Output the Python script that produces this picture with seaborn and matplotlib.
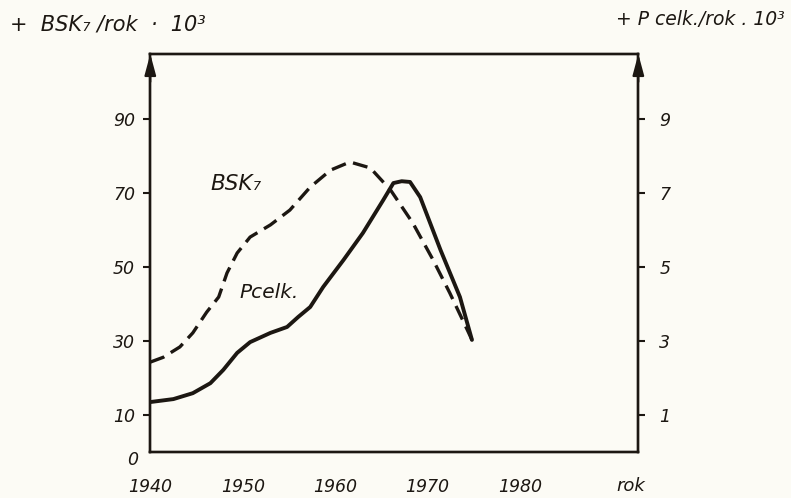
import numpy as np
import matplotlib.pyplot as plt
import seaborn as sns

# hodnoty
bsk_roky = [1940, 1941.4, 1943.2, 1944.6, 1946.1, 1947.4, 1948.3, 1949.4, 1950.8, 1953,
            1955.1, 1957.3, 1959.5, 1961.6, 1963.8, 1966, 1968.4, 1970.6, 1972.4, 1974.3, 1974.8]
bsk_hodnoty = [24.3, 25.6, 28.4, 32.2, 37.8, 41.9, 48.4, 53.8, 58.1, 61.4,
               65.4, 71.6, 76.2, 78.4, 76.8, 70.8, 61.9, 51.9, 43.0, 33.0, 30.3]

p_roky = [1940, 1942.5, 1944.6, 1946.5, 1947.9, 1949.4, 1950.8, 1953, 1954.8, 1956,
          1957.3, 1958.7, 1960.9, 1963, 1965.2, 1966.3, 1967.2, 1968.1, 1969.2, 1971.4, 1973.5, 1974.8]
p_hodnoty = [1.35, 1.43, 1.59, 1.86, 2.22, 2.68, 2.97, 3.22, 3.38, 3.65,
             3.92, 4.46, 5.19, 5.92, 6.81, 7.27, 7.32, 7.30, 6.89, 5.46, 4.19, 3.03]

roky_ticks = [1940, 1950, 1960, 1970, 1980]
levo_ticks = [10, 30, 50, 70, 90]
pravo_ticks = [1, 3, 5, 7, 9]

ink = '#1c1712'
papir = '#fcfbf5'

sns.set_style('white')
plt.rcParams['font.family'] = ['DejaVu Sans']
plt.rcParams['lines.solid_joinstyle'] = 'round'
plt.rcParams['lines.solid_capstyle'] = 'round'

fig = plt.figure(figsize=(7.91, 4.98), dpi=100, facecolor=papir)
ax = fig.add_axes([0.19, 0.0924, 0.617, 0.7992])
ax.set_facecolor(papir)
ax2 = ax.twinx()

sns.lineplot(x=bsk_roky, y=bsk_hodnoty, ax=ax, color=ink, linewidth=2.4,
             linestyle=(0, (4.5, 2.3)), estimator=None)
sns.lineplot(x=p_roky, y=p_hodnoty, ax=ax2, color=ink, linewidth=2.8, estimator=None)

ax.set_xlim(1940, 1992.8)
ax.set_ylim(0, 107.6)
ax2.set_ylim(0, 10.76)

for a in (ax, ax2):
    for s in a.spines.values():
        s.set_visible(True)
        s.set_color(ink)
        s.set_linewidth(1.7)

ax.set_xticks(roky_ticks)
ax.set_xticklabels([str(r) for r in roky_ticks], fontstyle='italic', fontsize=12.5)
ax.set_yticks(levo_ticks)
ax.set_yticklabels([str(v) for v in levo_ticks], fontstyle='italic', fontsize=12.5)
ax2.set_yticks(pravo_ticks)
ax2.set_yticklabels([str(v) for v in pravo_ticks], fontstyle='italic', fontsize=12.5)
ax.tick_params(axis='x', direction='out', length=6, width=1.5, pad=13, colors=ink)
ax.tick_params(axis='y', direction='out', length=5, width=1.5, pad=6, colors=ink)
ax2.tick_params(axis='y', direction='out', length=5, width=1.5, pad=10, colors=ink)
ax.set_xlabel('')
ax.set_ylabel('')
ax2.set_ylabel('')

# šipky na osách
for xa in (0, 1):
    ax.annotate('', xy=(xa, 1.0), xytext=(xa, 0.93), xycoords='axes fraction',
                arrowprops=dict(arrowstyle='-|>,head_length=1.3,head_width=0.35',
                                color=ink, lw=1.5, shrinkA=0, shrinkB=0))

ax.text(-0.025, -0.02, '0', transform=ax.transAxes, ha='right', va='center',
        fontstyle='italic', fontsize=12.5, color=ink)
ax.text(0.985, -0.085, 'rok', transform=ax.transAxes, ha='center', va='center',
        fontstyle='italic', fontsize=13, color=ink)

ax.text(1946.5, 72.5, 'BSK₇', fontstyle='italic', fontsize=15.5, color=ink, ha='left', va='center')
ax2.text(1949.7, 4.3, 'Pcelk.', fontstyle='italic', fontsize=14.5, color=ink, ha='left', va='center')

fig.text(0.013, 0.95, '+  BSK₇ /rok  ·  10³', fontstyle='italic', fontsize=15,
         color=ink, ha='left', va='center')
fig.text(0.992, 0.96, '+ P celk./rok . 10³', fontstyle='italic', fontsize=13.5,
         color=ink, ha='right', va='center')

fig.savefig('out.png', dpi=100, facecolor=papir)
